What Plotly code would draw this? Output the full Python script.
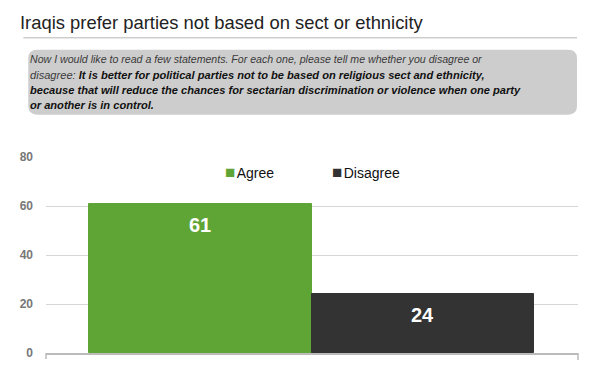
import plotly.graph_objects as go

# ---- data ----
series_names = ["Agree", "Disagree"]
series_values = [61, 24]
series_colors = ["#5fa536", "#333333"]
y_tick_values = [0, 20, 40, 60, 80]
y_tick_labels = ["0", "20", "40", "60", "80"]

title_text = "Iraqis prefer parties not based on sect or ethnicity"
question_lines = [
    "<i>Now I would like to read a few statements. For each one, please tell me whether you disagree or</i>",
    "<i>disagree: </i><b><i><span style='color:#111'>It is better for political parties not to be based on religious sect and ethnicity,</span></i></b>",
    "<b><i><span style='color:#111'>because that will reduce the chances for sectarian discrimination or violence when one party</span></i></b>",
    "<b><i><span style='color:#111'>or another is in control.</span></i></b>",
]
question_sizes = [10.6, 11.1, 11.1, 11.1]

# page has an 8px body margin; work in reference pixel coordinates and shift
OFF = 8
W, H = 600 - OFF, 372 - OFF
PLOT_L, PLOT_R, PLOT_T, PLOT_B = 38, 578, 157, 356  # reference pixels
ML, MT = PLOT_L - OFF, PLOT_T - OFF
MR, MB = W - (PLOT_R - OFF), H - (PLOT_B - OFF)
PW = PLOT_R - PLOT_L
PH = PLOT_B - PLOT_T
FONT = "Liberation Sans, Arial, sans-serif"


def px(x):
    return (x - PLOT_L) / PW


def py(y):
    return (PLOT_B - y) / PH


fig = go.Figure()
for name, val, col in zip(series_names, series_values, series_colors):
    fig.add_trace(go.Bar(
        x=[name], y=[val], name=name,
        marker=dict(color=col, line=dict(color=col, width=1)),
        showlegend=False, hoverinfo="x+y",
    ))

annotations = []
# value labels
for name, val in zip(series_names, series_values):
    annotations.append(dict(
        x=name, y=val, xref="x", yref="y", text=f"<b>{val}</b>",
        showarrow=False, yanchor="middle", yshift=-21,
        font=dict(family=FONT, size=20, color="white"),
    ))

# legend drawn as text
legend_x = [218, 326]
for name, col, lx in zip(series_names, series_colors, legend_x):
    annotations.append(dict(
        x=px(lx), y=py(173), xref="paper", yref="paper", xanchor="left", yanchor="middle",
        text=f"<span style='color:{col};font-size:17px'>■</span><span style='font-size:5px'> </span>{name}",
        showarrow=False, font=dict(family=FONT, size=14, color="#111"),
    ))

# title
annotations.append(dict(
    x=px(10), y=py(20), xref="paper", yref="paper", xanchor="left", yanchor="middle",
    text=title_text, showarrow=False, font=dict(family=FONT, size=18.4, color="#222"),
))
# question lines
line_y = [58, 73.5, 89, 104.5]
for txt, ly, fs in zip(question_lines, line_y, question_sizes):
    annotations.append(dict(
        x=px(20), y=py(ly), xref="paper", yref="paper", xanchor="left", yanchor="middle",
        text=txt, showarrow=False, align="left",
        font=dict(family=FONT, size=fs, color="#3a3a3a"),
    ))

# rounded box path
x0, x1, y0, y1, r = 20, 577, 48, 114, 9
path = (
    f"M {px(x0 + r)},{py(y0)} L {px(x1 - r)},{py(y0)} "
    f"Q {px(x1)},{py(y0)} {px(x1)},{py(y0 + r)} "
    f"L {px(x1)},{py(y1 - r)} Q {px(x1)},{py(y1)} {px(x1 - r)},{py(y1)} "
    f"L {px(x0 + r)},{py(y1)} Q {px(x0)},{py(y1)} {px(x0)},{py(y1 - r)} "
    f"L {px(x0)},{py(y0 + r)} Q {px(x0)},{py(y0)} {px(x0 + r)},{py(y0)} Z"
)
shapes = [
    dict(type="path", path=path, xref="paper", yref="paper",
         fillcolor="#cdcdcd", line=dict(width=0), layer="below"),
    dict(type="line", xref="paper", yref="paper", x0=px(15), x1=px(577), y0=py(36), y1=py(36),
         line=dict(color="#b5b5b5", width=1)),
    # axis end ticks
    dict(type="line", xref="paper", yref="paper", x0=0, x1=0, y0=0, y1=py(362),
         line=dict(color="#bbbbbb", width=1.5)),
    dict(type="line", xref="paper", yref="paper", x0=1, x1=1, y0=0, y1=py(363),
         line=dict(color="#bbbbbb", width=1.5)),
]

bar_left, bar_right = 82, 533
unit = (bar_right - bar_left) / 2.0
xr = [-0.5 - (bar_left - PLOT_L) / unit, 1.5 + (PLOT_R - bar_right) / unit]

fig.update_layout(
    width=W, height=H,
    margin=dict(l=ML, r=MR, t=MT, b=MB, pad=0),
    paper_bgcolor="white", plot_bgcolor="white",
    barmode="group", bargap=0, bargroupgap=0,
    annotations=annotations, shapes=shapes,
    font=dict(family=FONT),
    xaxis=dict(range=xr, showticklabels=False, ticks="", showgrid=False,
               showline=True, linecolor="#bbbbbb", linewidth=1.5, zeroline=False,
               fixedrange=True),
    yaxis=dict(range=[0, 80], tickvals=y_tick_values, ticktext=[f"<b>{t}</b>" for t in y_tick_labels],
               tickfont=dict(family=FONT, size=12, color="#777777"),
               showgrid=True, gridcolor="#d6d6d6", gridwidth=1, zeroline=False,
               ticks="", ticklabelstandoff=12, fixedrange=True),
    showlegend=False,
)

fig.write_html("out.html")
